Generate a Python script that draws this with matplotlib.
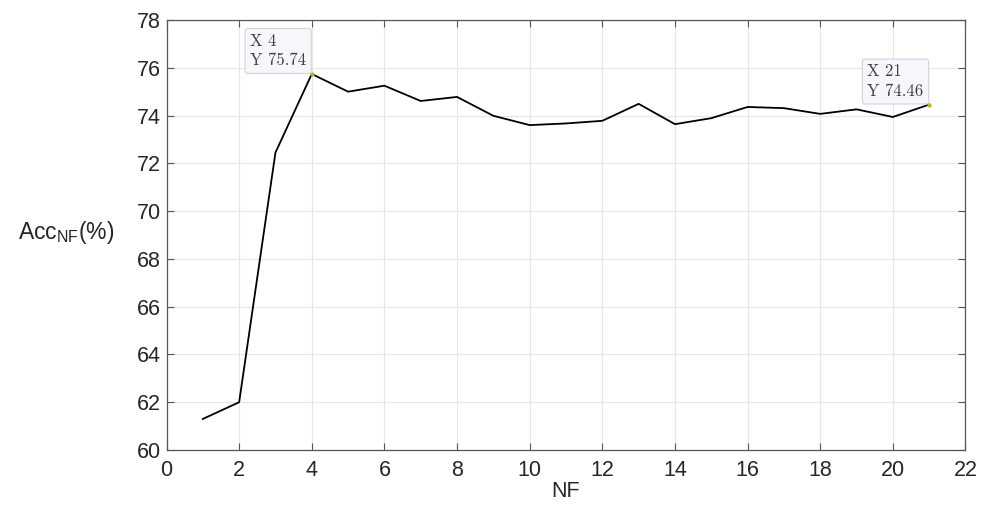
import matplotlib
matplotlib.use("Agg")
import matplotlib.pyplot as plt

plt.rcParams['font.family'] = ['Liberation Sans', 'DejaVu Sans']
plt.rcParams['mathtext.default'] = 'regular'

nf = list(range(1, 22))
acc = [61.3, 62.0, 72.45, 75.74, 75.0, 75.25, 74.61, 74.78, 73.99, 73.6, 73.67,
       73.78, 74.49, 73.64, 73.89, 74.36, 74.31, 74.07, 74.26, 73.94, 74.46]
tips = [4, 21]
xticks = list(range(0, 23, 2))
yticks = list(range(60, 79, 2))

fig = plt.figure(figsize=(9.87, 5.07), dpi=100)
ax = fig.add_axes([166.5/987, (507-450)/507, (965.5-166.5)/987, (450-20)/507])
ax.plot(nf, acc, color='black', lw=1.3)
ax.set_xlim(0, 22)
ax.set_ylim(60, 78)
ax.set_xticks(xticks)
ax.set_yticks(yticks)
ax.grid(True, color='#e6e6e6', lw=0.8)
ax.set_axisbelow(True)
for s in ax.spines.values():
    s.set_color('#555555')
    s.set_linewidth(0.9)
ax.tick_params(direction='in', top=True, right=True, length=5, width=0.8,
               colors='#555555', labelcolor='#262626', labelsize=15.5)
ax.tick_params(axis='x', pad=7)
ax.tick_params(axis='y', pad=4)
ax.set_xlabel('NF', fontsize=15.5, color='#262626', labelpad=0)
ax.set_ylabel('Acc$_{NF}$(%)', fontsize=16.5, color='#262626', rotation=0,
              va='center', ha='center')
ax.yaxis.set_label_coords(-0.125, 0.505)

for t in tips:
    yv = acc[nf.index(t)]
    ax.plot([t], [yv], 'o', ms=2, color='#b8b020', zorder=5)
    ax.annotate(f'X {t}\nY {yv:.2f}', xy=(t, yv), xytext=(-4, 4),
                textcoords='offset points', ha='right', va='bottom',
                multialignment='left',
                fontsize=12, family=['cmr10', 'DejaVu Serif'], color='#404040',
                linespacing=1.35,
                bbox=dict(boxstyle='round,pad=0.3,rounding_size=0.15',
                          fc='#f6f6fb', ec='#d2d2de', lw=0.8))

fig.savefig('out.png', dpi=100)
